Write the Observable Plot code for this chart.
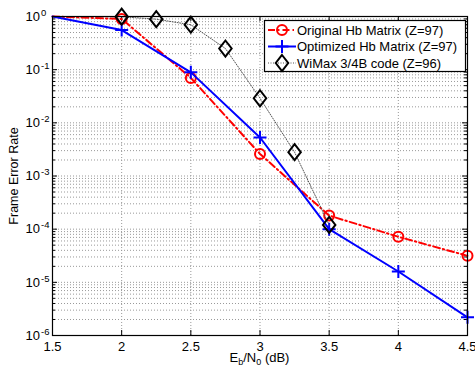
<!DOCTYPE html>
<html>
<head>
<meta charset="utf-8">
<script src="https://cdn.jsdelivr.net/npm/d3@7"></script>
<script src="https://cdn.jsdelivr.net/npm/@observablehq/plot@0.6"></script>
<style>
  html, body { margin: 0; padding: 0; background: #fff; }
  #chart { width: 475px; height: 370px; }
  svg { font-family: "Liberation Sans", Arial, sans-serif; }
</style>
</head>
<body>
<div id="chart"></div>
<script>
// ---- data ----
const xOriginal = [1.5, 2, 2.5, 3, 3.5, 4, 4.5];
const yOriginal = [1.0, 0.9, 0.070, 0.0026, 1.8e-4, 7.2e-5, 3.15e-5];
const xOptimized = [1.5, 2, 2.5, 3, 3.5, 4, 4.5];
const yOptimized = [1.0, 0.556, 0.089, 0.0053, 1.0e-4, 1.6e-5, 2.2e-6];
const xWimax = [1.5, 2, 2.25, 2.5, 2.75, 3, 3.25, 3.5];
const yWimax = [1.0, 0.99, 0.89, 0.70, 0.25, 0.029, 0.0028, 1.2e-4];
const seriesNames = ["Original Hb Matrix (Z=97)", "Optimized Hb Matrix (Z=97)", "WiMax 3/4B code (Z=96)"];
const xTicks = [1.5, 2, 2.5, 3, 3.5, 4, 4.5];
const xTickLabels = ["1.5", "2", "2.5", "3", "3.5", "4", "4.5"];
const yTicks = [1e-6, 1e-5, 1e-4, 1e-3, 1e-2, 1e-1, 1];
const yTickExponents = ["-6", "-5", "-4", "-3", "-2", "-1", "0"];
const minorMultipliers = [2, 3, 4, 5, 6, 7, 8, 9];

const yMinor = [];
for (const t of yTicks.slice(0, -1)) for (const m of minorMultipliers) yMinor.push(t * m);
const yGrid = yTicks.concat(yMinor);

const toRows = (xs, ys) => xs.map((x, i) => ({x, y: ys[i]}));
const orig = toRows(xOriginal, yOriginal);
const opt = toRows(xOptimized, yOptimized);
const wim = toRows(xWimax, yWimax);
// markers are not shown at the first (x = 1.5) point
const origM = orig.slice(1), optM = opt.slice(1), wimM = wim.slice(1);

// ---- custom symbols ----
const plusSymbol = {
  draw(ctx, size) {
    const r = Math.sqrt(size / Math.PI);
    ctx.moveTo(-r, 0); ctx.lineTo(r, 0);
    ctx.moveTo(0, -r); ctx.lineTo(0, r);
  }
};
const diamondSymbol = {
  draw(ctx, size) {
    const r = Math.sqrt(size / Math.PI);
    const rx = r * 0.78, ry = r;
    ctx.moveTo(0, -ry); ctx.lineTo(rx, 0); ctx.lineTo(0, ry); ctx.lineTo(-rx, 0); ctx.closePath();
  }
};

const W = 475, H = 370;
const mL = 52, mR = 8, mT = 16, mB = 35;
const plotW = W - mL - mR, plotH = H - mT - mB;
const RED = "#ff0000", BLUE = "#0000ff";

const chart = Plot.plot({
  width: W, height: H,
  marginLeft: mL, marginRight: mR, marginTop: mT, marginBottom: mB,
  style: {fontFamily: "'Liberation Sans', Arial, sans-serif", fontSize: "13px", background: "white", color: "black"},
  x: {domain: [1.5, 4.5]},
  y: {type: "log", domain: [1e-6, 1]},
  marks: [
    Plot.gridX(xTicks, {stroke: "#999", strokeOpacity: 1, strokeDasharray: "1,2"}),
    Plot.gridY(yGrid, {stroke: "#999", strokeOpacity: 1, strokeDasharray: "1,2"}),
    Plot.axisX({ticks: xTicks, tickFormat: (d) => xTickLabels[xTicks.indexOf(d)], tickSize: 0, tickPadding: 6, fontSize: 13, label: null}),
    Plot.axisY({ticks: yTicks, tickFormat: (d) => yTickExponents[yTicks.indexOf(d)], tickSize: 0, tickPadding: 0, fontSize: 13, label: null}),
    // inward ticks (MATLAB style)
    Plot.tickX(xTicks, {x: d => d, stroke: "black", insetTop: plotH - 5}),
    Plot.tickX(xTicks, {x: d => d, stroke: "black", insetBottom: plotH - 5}),
    Plot.tickY(yTicks, {y: d => d, stroke: "black", insetRight: plotW - 5}),
    Plot.tickY(yTicks, {y: d => d, stroke: "black", insetLeft: plotW - 5}),
    Plot.tickY(yMinor, {y: d => d, stroke: "black", insetRight: plotW - 3}),
    Plot.tickY(yMinor, {y: d => d, stroke: "black", insetLeft: plotW - 3}),
    // series
    Plot.line(orig, {x: "x", y: "y", stroke: RED, strokeWidth: 2, strokeDasharray: "7,3,1.5,3"}),
    Plot.dot(origM, {x: "x", y: "y", r: 5, stroke: RED, strokeWidth: 2, fill: "none"}),
    Plot.line(opt, {x: "x", y: "y", stroke: BLUE, strokeWidth: 2}),
    Plot.dot(optM, {x: "x", y: "y", r: 6.5, symbol: plusSymbol, stroke: BLUE, strokeWidth: 2, fill: "none"}),
    Plot.line(wim, {x: "x", y: "y", stroke: "#555", strokeWidth: 1, strokeDasharray: "1,1.5"}),
    Plot.dot(wimM, {x: "x", y: "y", r: 8, symbol: diamondSymbol, stroke: "black", strokeWidth: 2, fill: "none"}),
    Plot.frame({stroke: "black", strokeWidth: 1.2})
  ]
});

document.getElementById("chart").appendChild(chart);
const svg = d3.select(chart);

// superscript exponents on y tick labels: 10^e, with the "10" left-aligned at x = 25
svg.selectAll('g[aria-label="y-axis tick label"]').attr("text-anchor", "start");
svg.selectAll('g[aria-label="y-axis tick label"] text').each(function () {
  const t = d3.select(this);
  const e = t.text();
  t.text(null).attr("text-anchor", "start").attr("dx", -27);
  t.append("tspan").text("10");
  t.append("tspan").attr("dx", 1).attr("dy", "-5").attr("font-size", "9.5px").text(e);
});

// x label with subscripts
const xl = svg.append("text")
  .attr("x", mL + plotW / 2).attr("y", 362)
  .attr("text-anchor", "middle").attr("font-size", "13px").attr("fill", "black");
xl.append("tspan").text("E");
xl.append("tspan").attr("dy", 3).attr("font-size", "9px").text("b");
xl.append("tspan").attr("dy", -3).text("/N");
xl.append("tspan").attr("dy", 3).attr("font-size", "9px").text("0");
xl.append("tspan").attr("dy", -3).text(" (dB)");

// y label
svg.append("text")
  .attr("transform", "translate(18,176) rotate(-90)")
  .attr("text-anchor", "middle").attr("font-size", "12.5px").attr("fill", "black")
  .text("Frame Error Rate");

// legend
const lg = svg.append("g").attr("text-anchor", "start");
lg.append("rect").attr("x", 264.5).attr("y", 20.5).attr("width", 201).attr("height", 51)
  .attr("fill", "white").attr("stroke", "black").attr("stroke-width", 1.2);
const rowsY = [30, 46.5, 63];
const styles = [
  {stroke: RED, width: 2, dash: "7,3,1.5,3"},
  {stroke: BLUE, width: 2, dash: null},
  {stroke: "#555", width: 1, dash: "1,1.5"}
];
seriesNames.forEach((name, i) => {
  const y = rowsY[i], s = styles[i];
  const ln = lg.append("line").attr("x1", 268).attr("x2", 296).attr("y1", y).attr("y2", y)
    .attr("stroke", s.stroke).attr("stroke-width", s.width);
  if (s.dash) ln.attr("stroke-dasharray", s.dash);
  const cx = 282;
  if (i === 0) {
    lg.append("circle").attr("cx", cx).attr("cy", y).attr("r", 5).attr("fill", "none").attr("stroke", RED).attr("stroke-width", 2);
  } else if (i === 1) {
    lg.append("path").attr("d", `M${cx-6.5},${y}H${cx+6.5}M${cx},${y-6.5}V${y+6.5}`).attr("stroke", BLUE).attr("stroke-width", 2);
  } else {
    const rx = 8 * 0.78, ry = 8;
    lg.append("path").attr("d", `M${cx},${y-ry}L${cx+rx},${y}L${cx},${y+ry}L${cx-rx},${y}Z`).attr("fill", "none").attr("stroke", "black").attr("stroke-width", 2);
  }
  lg.append("text").attr("x", 297).attr("y", y).attr("dy", "0.35em").attr("text-anchor", "start").attr("font-size", "13px").attr("fill", "black").text(name);
});
</script>
</body>
</html>
